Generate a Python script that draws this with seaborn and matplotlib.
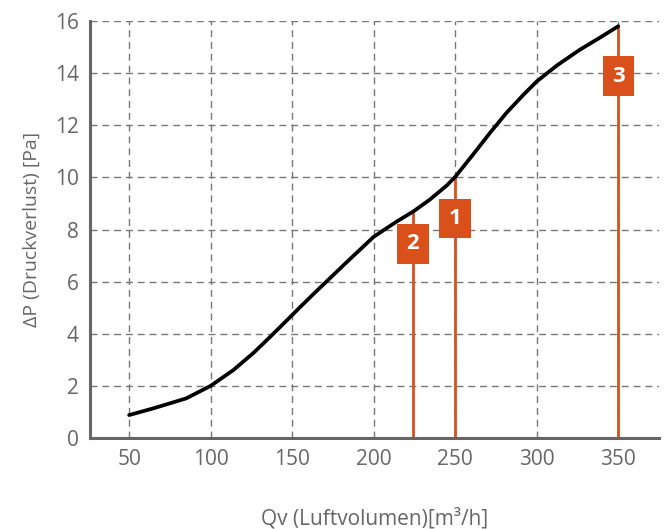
import numpy as np
import pandas as pd
import matplotlib
matplotlib.use("Agg")
import matplotlib.pyplot as plt
import seaborn as sns

# Curve data (Qv in m3/h, dP in Pa)
qv = [50, 65, 85, 100, 114, 126, 136.5, 146.5, 155, 163, 183.5, 200,
      214, 224.5, 234.5, 245, 250, 261, 271.5, 281.5, 292, 300, 312.5,
      326.5, 339, 350]
dp = [0.88, 1.14, 1.52, 2.0, 2.61, 3.25, 3.88, 4.50, 5.03, 5.52, 6.75, 7.72,
      8.30, 8.70, 9.15, 9.70, 10.02, 10.88, 11.72, 12.48, 13.18, 13.68, 14.30,
      14.90, 15.37, 15.80]

# Marker lines
marker_x = [250, 224, 350]
marker_labels = ["1", "2", "3"]
marker_label_y = [8.42, 7.45, 13.88]

xticks = [50, 100, 150, 200, 250, 300, 350]
yticks = [0, 2, 4, 6, 8, 10, 12, 14, 16]

sns.set_theme(style="white")
plt.rcParams['font.family'] = ['Open Sans', 'DejaVu Sans']

gray = "#666666"
orange = "#D9501A"

fig = plt.figure(figsize=(6.65, 5.29), dpi=100)
ax = fig.add_axes([90/665, 91/529, 569/665, 417/529])

df = pd.DataFrame({"qv": qv, "dp": dp})

# vertical marker lines from axis to curve
tops = np.interp(marker_x, qv, dp)
for x, t in zip(marker_x, tops):
    ax.vlines(x, 0, t, color=orange, lw=2.0, zorder=2)

sns.lineplot(data=df, x="qv", y="dp", color="black", lw=2.7, ax=ax, zorder=3,
             estimator=None, sort=True, solid_joinstyle="round",
             solid_capstyle="round")

for x, y, lab in zip(marker_x, marker_label_y, marker_labels):
    ax.text(x, y, lab, color="white", fontsize=16, fontweight="bold",
            ha="center", va="center", zorder=4,
            bbox=dict(boxstyle="square,pad=0.42", fc=orange, ec="none"))

ax.set_xlim(26, 375)
ax.set_ylim(0, 16)
ax.set_xticks(xticks)
ax.set_yticks(yticks)
ax.grid(True, color="#777777", linestyle=(0, (5, 3.5)), linewidth=1.0, zorder=0)
ax.set_axisbelow(True)

for s in ["top", "right"]:
    ax.spines[s].set_visible(False)
for s in ["left", "bottom"]:
    ax.spines[s].set_color(gray)
    ax.spines[s].set_linewidth(2.2)

ax.tick_params(axis="both", length=0, labelsize=15, labelcolor=gray, pad=8)
ax.set_xlabel("Qv (Luftvolumen)[m³/h]", fontsize=15, color=gray, labelpad=27)
ax.set_ylabel("ΔP (Druckverlust) [Pa]", fontsize=14, color=gray, labelpad=10)

fig.savefig("out.png", dpi=100)
